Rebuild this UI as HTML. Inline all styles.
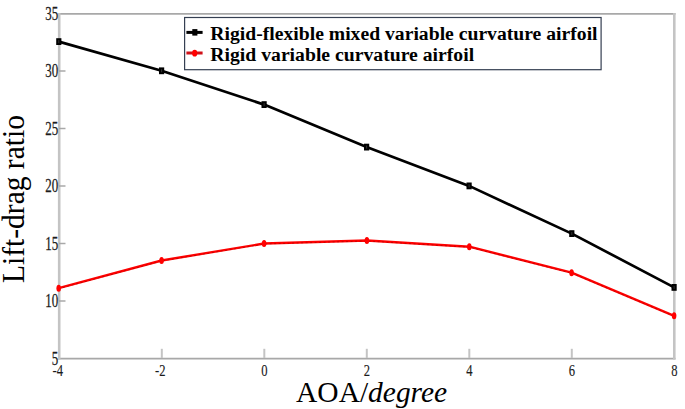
<!DOCTYPE html>
<html><head><meta charset="utf-8"><style>
html,body{margin:0;padding:0;background:#fff;}
body{width:685px;height:409px;overflow:hidden;}
svg{display:block;}
.t{font-family:"Liberation Serif",serif;font-size:17.8px;fill:#1a1a1a;stroke:#222;stroke-width:0.25px;}
.tx{font-size:16.8px;stroke-width:0.15px;}
.lg{font-family:"Liberation Serif",serif;font-size:19px;font-weight:bold;fill:#000;}
.ax{font-family:"Liberation Serif",serif;font-size:30px;fill:#000;}
.ay{font-family:"Liberation Serif",serif;font-size:31px;fill:#000;}
</style></head><body>
<svg width="685" height="409" viewBox="0 0 685 409">
<line x1="58" y1="13.9" x2="675.5" y2="13.9" stroke="#a8a8a8" stroke-width="1.8"/>
<line x1="58" y1="358.6" x2="675.5" y2="358.6" stroke="#a8a8a8" stroke-width="1.8"/>
<line x1="59.2" y1="13" x2="59.2" y2="359.5" stroke="#c4c4c4" stroke-width="2.6"/>
<line x1="674.3" y1="13" x2="674.3" y2="359.5" stroke="#c4c4c4" stroke-width="2.6"/>
<line x1="161.8" y1="348.8" x2="161.8" y2="358" stroke="#c4c4c4" stroke-width="2"/>
<line x1="264.3" y1="348.8" x2="264.3" y2="358" stroke="#c4c4c4" stroke-width="2"/>
<line x1="366.8" y1="348.8" x2="366.8" y2="358" stroke="#c4c4c4" stroke-width="2"/>
<line x1="469.3" y1="348.8" x2="469.3" y2="358" stroke="#c4c4c4" stroke-width="2"/>
<line x1="571.8" y1="348.8" x2="571.8" y2="358" stroke="#c4c4c4" stroke-width="2"/>
<line x1="59" y1="301.0" x2="65.5" y2="301.0" stroke="#a8a8a8" stroke-width="1.5"/>
<line x1="59" y1="243.5" x2="65.5" y2="243.5" stroke="#a8a8a8" stroke-width="1.5"/>
<line x1="59" y1="186.0" x2="65.5" y2="186.0" stroke="#a8a8a8" stroke-width="1.5"/>
<line x1="59" y1="128.5" x2="65.5" y2="128.5" stroke="#a8a8a8" stroke-width="1.5"/>
<line x1="59" y1="71.0" x2="65.5" y2="71.0" stroke="#a8a8a8" stroke-width="1.5"/>
<text transform="translate(58.2,364.7) scale(0.73,1)" text-anchor="end" class="t">5</text>
<text transform="translate(58.2,307.2) scale(0.73,1)" text-anchor="end" class="t">10</text>
<text transform="translate(58.2,249.7) scale(0.73,1)" text-anchor="end" class="t">15</text>
<text transform="translate(58.2,192.2) scale(0.73,1)" text-anchor="end" class="t">20</text>
<text transform="translate(58.2,134.7) scale(0.73,1)" text-anchor="end" class="t">25</text>
<text transform="translate(58.2,77.2) scale(0.73,1)" text-anchor="end" class="t">30</text>
<text transform="translate(58.2,19.7) scale(0.73,1)" text-anchor="end" class="t">35</text>
<text transform="translate(57.8,375.6) scale(0.75,1)" text-anchor="middle" class="t tx">-4</text>
<text transform="translate(160.3,375.6) scale(0.75,1)" text-anchor="middle" class="t tx">-2</text>
<text transform="translate(264.3,375.6) scale(0.75,1)" text-anchor="middle" class="t tx">0</text>
<text transform="translate(366.8,375.6) scale(0.75,1)" text-anchor="middle" class="t tx">2</text>
<text transform="translate(469.3,375.6) scale(0.75,1)" text-anchor="middle" class="t tx">4</text>
<text transform="translate(571.8,375.6) scale(0.75,1)" text-anchor="middle" class="t tx">6</text>
<text transform="translate(674.3,375.6) scale(0.75,1)" text-anchor="middle" class="t tx">8</text>
<polyline points="58.8,41.6 161.6,70.8 264.1,104.6 366.6,147.1 469.1,185.9 571.8,233.6 674.1,287.4" fill="none" stroke="#000" stroke-width="2.7" stroke-linejoin="round" />
<rect x="56.2" y="38.2" width="5.2" height="6.8" fill="#000"/>
<rect x="58.3" y="40.1" width="1" height="3" fill="#555" opacity="0.6"/>
<rect x="159.0" y="67.4" width="5.2" height="6.8" fill="#000"/>
<rect x="161.1" y="69.3" width="1" height="3" fill="#555" opacity="0.6"/>
<rect x="261.5" y="101.2" width="5.2" height="6.8" fill="#000"/>
<rect x="263.6" y="103.1" width="1" height="3" fill="#555" opacity="0.6"/>
<rect x="364.0" y="143.7" width="5.2" height="6.8" fill="#000"/>
<rect x="366.1" y="145.6" width="1" height="3" fill="#555" opacity="0.6"/>
<rect x="466.5" y="182.5" width="5.2" height="6.8" fill="#000"/>
<rect x="468.6" y="184.4" width="1" height="3" fill="#555" opacity="0.6"/>
<rect x="569.2" y="230.2" width="5.2" height="6.8" fill="#000"/>
<rect x="571.3" y="232.1" width="1" height="3" fill="#555" opacity="0.6"/>
<rect x="671.5" y="284.0" width="5.2" height="6.8" fill="#000"/>
<rect x="673.6" y="285.9" width="1" height="3" fill="#555" opacity="0.6"/>
<polyline points="58.7,288.2 161.6,260.5 264.1,243.5 366.9,240.5 469.3,246.7 571.6,272.7 674.1,315.8" fill="none" stroke="#f00" stroke-width="2.4" stroke-linejoin="round" />
<polyline points="58.7,288.7 161.6,261.0 264.1,244.0 366.9,241.0 469.3,247.2 571.6,273.2 674.1,316.3" fill="none" stroke="#700" stroke-width="0.9" stroke-linejoin="round" stroke-dasharray="2 2.5" opacity="0.45"/>
<ellipse cx="58.7" cy="288.2" rx="2.3" ry="3.5" fill="#f00"/>
<ellipse cx="161.6" cy="260.5" rx="2.3" ry="3.5" fill="#f00"/>
<ellipse cx="264.1" cy="243.5" rx="2.3" ry="3.5" fill="#f00"/>
<ellipse cx="366.9" cy="240.5" rx="2.3" ry="3.5" fill="#f00"/>
<ellipse cx="469.3" cy="246.7" rx="2.3" ry="3.5" fill="#f00"/>
<ellipse cx="571.6" cy="272.7" rx="2.3" ry="3.5" fill="#f00"/>
<ellipse cx="674.1" cy="315.8" rx="2.3" ry="3.5" fill="#f00"/>
<rect x="184.6" y="17.5" width="416.5" height="52.2" fill="#fff" stroke="#353f52" stroke-width="1.2"/>
<line x1="186.4" y1="32.4" x2="202.6" y2="32.4" stroke="#000" stroke-width="3"/>
<rect x="192.3" y="29.1" width="5.1" height="6.5" fill="#000"/>
<line x1="186.4" y1="53" x2="202.6" y2="53" stroke="#d01018" stroke-width="3"/>
<ellipse cx="194.7" cy="53.2" rx="2.6" ry="3.4" fill="#f00"/>
<text transform="translate(210.3,40.1) scale(1.035,1)" class="lg">Rigid-flexible mixed variable curvature airfoil</text>
<text transform="translate(210.3,60.6) scale(1.037,1)" class="lg">Rigid variable curvature airfoil</text>
<text transform="translate(296.1,401.5) scale(0.982,1)" class="ax">AOA/<tspan font-style="italic">degree</tspan></text>
<text transform="translate(24.1,283) rotate(-90) scale(0.952,1)" class="ay">Lift-drag ratio</text>
</svg>
</body></html>
